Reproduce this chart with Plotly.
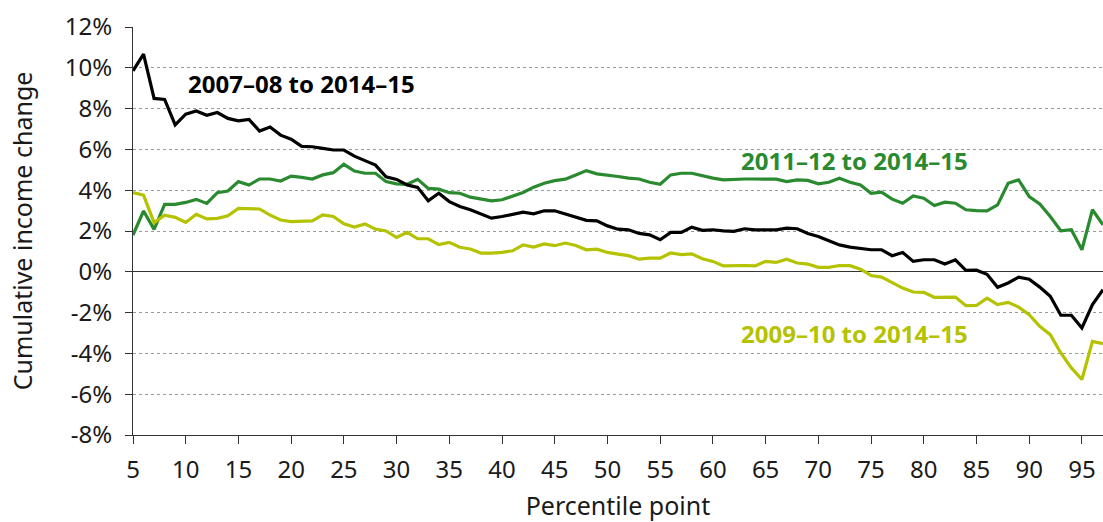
import plotly.graph_objects as go

percentiles = list(range(5, 98))

black_0708 = [9.85, 10.67, 8.5, 8.45, 7.2, 7.73, 7.88, 7.67, 7.81, 7.52,
              7.4, 7.47, 6.9, 7.1, 6.7, 6.5, 6.15, 6.13, 6.05, 5.97,
              5.97, 5.67, 5.45, 5.23, 4.66, 4.53, 4.26, 4.14, 3.48, 3.85,
              3.44, 3.2, 3.04, 2.84, 2.63, 2.71, 2.83, 2.92, 2.84, 2.99,
              2.99, 2.84, 2.66, 2.52, 2.5, 2.25, 2.09, 2.06, 1.88, 1.81,
              1.57, 1.93, 1.93, 2.19, 2.03, 2.06, 2.01, 1.98, 2.11, 2.06,
              2.06, 2.06, 2.14, 2.11, 1.88, 1.73, 1.52, 1.32, 1.21, 1.16,
              1.08, 1.08, 0.79, 0.95, 0.51, 0.59, 0.59, 0.38, 0.59, 0.07,
              0.08, -0.12, -0.76, -0.55, -0.26, -0.36, -0.75, -1.2, -2.13, -2.13,
              -2.75, -1.61, -0.88]

green_1112 = [1.8, 2.98, 2.08, 3.31, 3.31, 3.4, 3.55, 3.35, 3.88, 3.96,
              4.42, 4.25, 4.55, 4.55, 4.45, 4.69, 4.63, 4.55, 4.75, 4.86,
              5.27, 4.94, 4.83, 4.83, 4.42, 4.31, 4.29, 4.53, 4.09, 4.05,
              3.88, 3.85, 3.66, 3.58, 3.48, 3.53, 3.69, 3.89, 4.15, 4.34,
              4.47, 4.54, 4.75, 4.96, 4.8, 4.75, 4.67, 4.59, 4.55, 4.39,
              4.29, 4.75, 4.83, 4.83, 4.7, 4.59, 4.51, 4.54, 4.55, 4.55,
              4.54, 4.54, 4.42, 4.51, 4.48, 4.31, 4.39, 4.59, 4.39, 4.26,
              3.85, 3.9, 3.56, 3.36, 3.72, 3.61, 3.25, 3.41, 3.36, 3.04,
              3.0, 2.99, 3.28, 4.34, 4.51, 3.69, 3.33, 2.71, 2.01, 2.06,
              1.08, 3.04, 2.3]

yellow_0910 = [3.88, 3.76, 2.41, 2.78, 2.67, 2.42, 2.82, 2.59, 2.62, 2.75,
               3.11, 3.08, 3.08, 2.78, 2.54, 2.46, 2.47, 2.5, 2.79, 2.71,
               2.35, 2.19, 2.35, 2.09, 2.0, 1.68, 1.93, 1.62, 1.62, 1.33,
               1.44, 1.2, 1.12, 0.92, 0.92, 0.95, 1.03, 1.32, 1.21, 1.37,
               1.28, 1.41, 1.29, 1.08, 1.11, 0.95, 0.87, 0.79, 0.62, 0.67,
               0.67, 0.92, 0.84, 0.88, 0.64, 0.51, 0.29, 0.31, 0.31, 0.29,
               0.51, 0.46, 0.62, 0.43, 0.38, 0.22, 0.22, 0.31, 0.3, 0.13,
               -0.18, -0.26, -0.55, -0.8, -0.99, -1.01, -1.25, -1.25, -1.24, -1.66,
               -1.65, -1.29, -1.61, -1.5, -1.73, -2.1, -2.67, -3.08, -3.98, -4.71,
               -5.28, -3.41, -3.52]

x_ticks = list(range(5, 96, 5))
y_ticks = [12, 10, 8, 6, 4, 2, 0, -2, -4, -6, -8]
y_ticktext = ["12%", "10%", "8%", "6%", "4%", "2%", "0%", "-2%", "-4%", "-6%", "-8%"]

series_names = ["2007–08 to 2014–15", "2011–12 to 2014–15", "2009–10 to 2014–15"]

BLACK = "#000000"
GREEN = "#2a8a2f"
YELLOW = "#b5c200"
FONT = "Noto Sans"
TXT = "#1a1a1a"

fig = go.Figure()
fig.add_trace(go.Scatter(x=percentiles, y=green_1112, mode="lines",
                         line=dict(color=GREEN, width=3.2), name=series_names[1]))
fig.add_trace(go.Scatter(x=percentiles, y=yellow_0910, mode="lines",
                         line=dict(color=YELLOW, width=3.2), name=series_names[2]))
fig.add_trace(go.Scatter(x=percentiles, y=black_0708, mode="lines",
                         line=dict(color=BLACK, width=3.2), name=series_names[0]))

fig.add_annotation(x=10.0, y=9.25, xref="x", yref="y", text="<b>" + series_names[0] + "</b>",
                   showarrow=False, xanchor="left", yanchor="middle",
                   font=dict(family=FONT, size=24, color=BLACK))
fig.add_annotation(x=62.5, y=5.45, xref="x", yref="y", text="<b>" + series_names[1] + "</b>",
                   showarrow=False, xanchor="left", yanchor="middle",
                   font=dict(family=FONT, size=24, color=GREEN))
fig.add_annotation(x=62.5, y=-3.0, xref="x", yref="y", text="<b>" + series_names[2] + "</b>",
                   showarrow=False, xanchor="left", yanchor="middle",
                   font=dict(family=FONT, size=24, color=YELLOW))

fig.update_layout(
    width=1103, height=522,
    margin=dict(l=133, r=0, t=27, b=87),
    paper_bgcolor="white", plot_bgcolor="white",
    showlegend=False,
    font=dict(family=FONT, size=24, color=TXT),
)
fig.update_xaxes(
    range=[5, 97], tickvals=x_ticks, ticks="outside", ticklen=8, tickcolor="#333333",
    showgrid=False, showline=True, linecolor="#333333", linewidth=1, zeroline=False,
    tickfont=dict(family=FONT, size=24, color=TXT), ticklabelstandoff=5,
    title=dict(text="Percentile point", font=dict(family=FONT, size=25, color=TXT), standoff=15),
)
fig.update_yaxes(
    range=[-8, 12], tickvals=y_ticks, ticktext=y_ticktext, ticks="outside", ticklen=7,
    tickcolor="#333333", showline=True, linecolor="#333333", linewidth=1,
    showgrid=True, gridcolor="#9a9a9a", gridwidth=1, griddash="3px,3px",
    zeroline=True, zerolinecolor="#333333", zerolinewidth=1.3,
    tickfont=dict(family=FONT, size=24, color=TXT), ticklabelstandoff=8,
    title=dict(text="Cumulative income change", font=dict(family=FONT, size=25, color=TXT), standoff=25),
)

fig.write_html(
    "out.html",
    config={"displayModeBar": False},
    post_script="document.body.style.margin='0';document.body.style.overflow='hidden';",
)
